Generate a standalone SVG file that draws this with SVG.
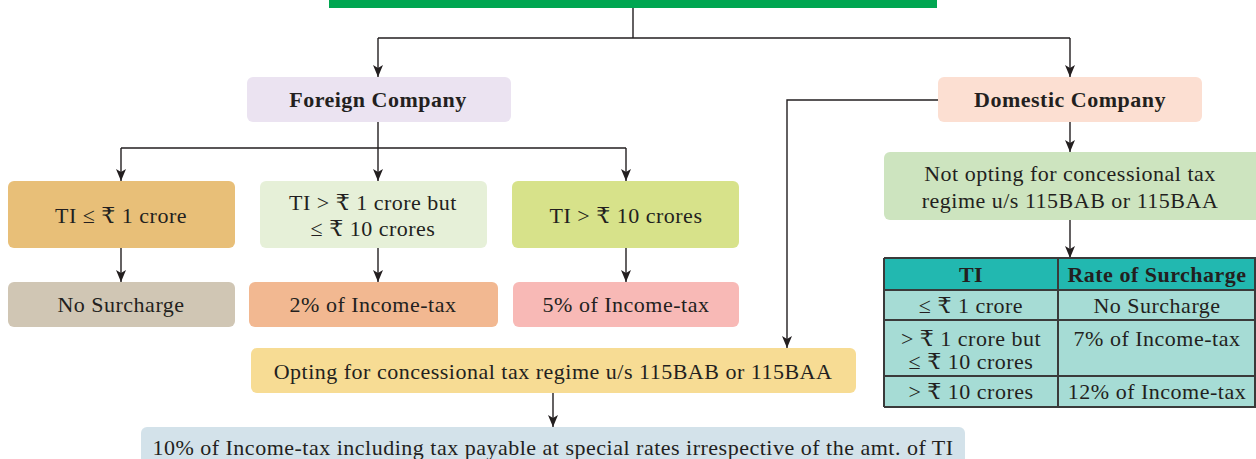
<svg xmlns="http://www.w3.org/2000/svg" width="1256" height="459" viewBox="0 0 1256 459">
<defs>
<marker id="arr" viewBox="0 0 12 10" refX="12" refY="5" markerWidth="12" markerHeight="10" markerUnits="userSpaceOnUse" orient="auto">
<path d="M0,0 L12,5 L0,10 L3,5 z" fill="#231f20"/>
</marker>
<style>
.t{font-family:"Liberation Serif","DejaVu Serif",serif;font-size:22px;letter-spacing:0.5px;fill:#231f20;text-anchor:middle}
.b{font-weight:bold}
.c{fill:none;stroke:#231f20;stroke-width:1.4}
.a{marker-end:url(#arr)}
.tl{stroke:#3a3a3a;stroke-width:2}
</style>
</defs>
<rect id="top" x="329" y="0" width="608" height="8" fill="#00a651"/>
<g id="connectors">
<path class="c" d="M633,8 V38 M378,38 H1070"/>
<path class="c a" d="M378,38 V77"/>
<path class="c a" d="M1070,38 V77"/>
<path class="c" d="M378,122 V148 M121,148 H626"/>
<path class="c a" d="M121,148 V181"/>
<path class="c a" d="M378,148 V181"/>
<path class="c a" d="M626,148 V181"/>
<path class="c a" d="M121,248 V282"/>
<path class="c a" d="M378,248 V282"/>
<path class="c a" d="M626,248 V282"/>
<path class="c a" d="M938,100 H787 V348"/>
<path class="c a" d="M1070,122 V152"/>
<path class="c a" d="M1070,220 V258"/>
<path class="c a" d="M553,393 V427"/>
</g>
<g id="foreign">
<rect x="247" y="77" width="264" height="45" rx="6" fill="#ebe3f1"/>
<text class="t b" x="378" y="107">Foreign Company</text>
</g>
<g id="domestic">
<rect x="938" y="77" width="264" height="45" rx="6" fill="#fcdfd2"/>
<text class="t b" x="1070" y="107">Domestic Company</text>
</g>
<g id="ti1">
<rect x="8" y="181" width="227" height="67" rx="6" fill="#e8bf78"/>
<text class="t" x="121" y="223">TI ≤ ₹ 1 crore</text>
</g>
<g id="ti2">
<rect x="260" y="181" width="227" height="67" rx="6" fill="#e6f0d8"/>
<text class="t" x="373" y="210">TI &gt; ₹ 1 crore but</text>
<text class="t" x="373" y="236">≤ ₹ 10 crores</text>
</g>
<g id="ti3">
<rect x="512" y="181" width="227" height="67" rx="6" fill="#d7e28a"/>
<text class="t" x="626" y="223">TI &gt; ₹ 10 crores</text>
</g>
<g id="nosur">
<rect x="8" y="282" width="227" height="45" rx="6" fill="#d0c6b4"/>
<text class="t" x="121" y="312">No Surcharge</text>
</g>
<g id="two">
<rect x="249" y="282" width="249" height="45" rx="6" fill="#f2b891"/>
<text class="t" x="373" y="312">2% of Income-tax</text>
</g>
<g id="five">
<rect x="513" y="282" width="226" height="45" rx="6" fill="#f8b9b6"/>
<text class="t" x="626" y="312">5% of Income-tax</text>
</g>
<g id="notopt">
<rect x="884" y="152" width="378" height="68" rx="6" fill="#cde4bf"/>
<text class="t" x="1070" y="181">Not opting for concessional tax</text>
<text class="t" x="1070" y="208">regime u/s 115BAB or 115BAA</text>
</g>
<g id="table">
<rect x="884" y="258" width="372" height="32" fill="#22b8b0"/>
<rect x="884" y="290" width="372" height="117" fill="#a6dcd5"/>
<path class="tl" d="M884,258 H1256 M884,290 H1256 M884,320 H1256 M884,376 H1256 M884,407 H1256 M884,258 V407 M1058,258 V407 M1255,258 V407"/>
<text class="t b" x="971" y="282">TI</text>
<text class="t b" x="1157" y="282">Rate of Surcharge</text>
<text class="t" x="971" y="313">≤ ₹ 1 crore</text>
<text class="t" x="1157" y="313">No Surcharge</text>
<text class="t" x="971" y="346">&gt; ₹ 1 crore but</text>
<text class="t" x="971" y="369">≤ ₹ 10 crores</text>
<text class="t" x="1157" y="346">7% of Income-tax</text>
<text class="t" x="971" y="399">&gt; ₹ 10 crores</text>
<text class="t" x="1157" y="399">12% of Income-tax</text>
</g>
<g id="opting">
<rect x="251" y="348" width="605" height="45" rx="6" fill="#f7dc94"/>
<text class="t" x="553" y="379">Opting for concessional tax regime u/s 115BAB or 115BAA</text>
</g>
<g id="ten">
<rect x="141" y="427" width="824" height="40" rx="6" fill="#d3e2ea"/>
<text class="t" x="553" y="455">10% of Income-tax including tax payable at special rates irrespective of the amt. of TI</text>
</g>
</svg>
